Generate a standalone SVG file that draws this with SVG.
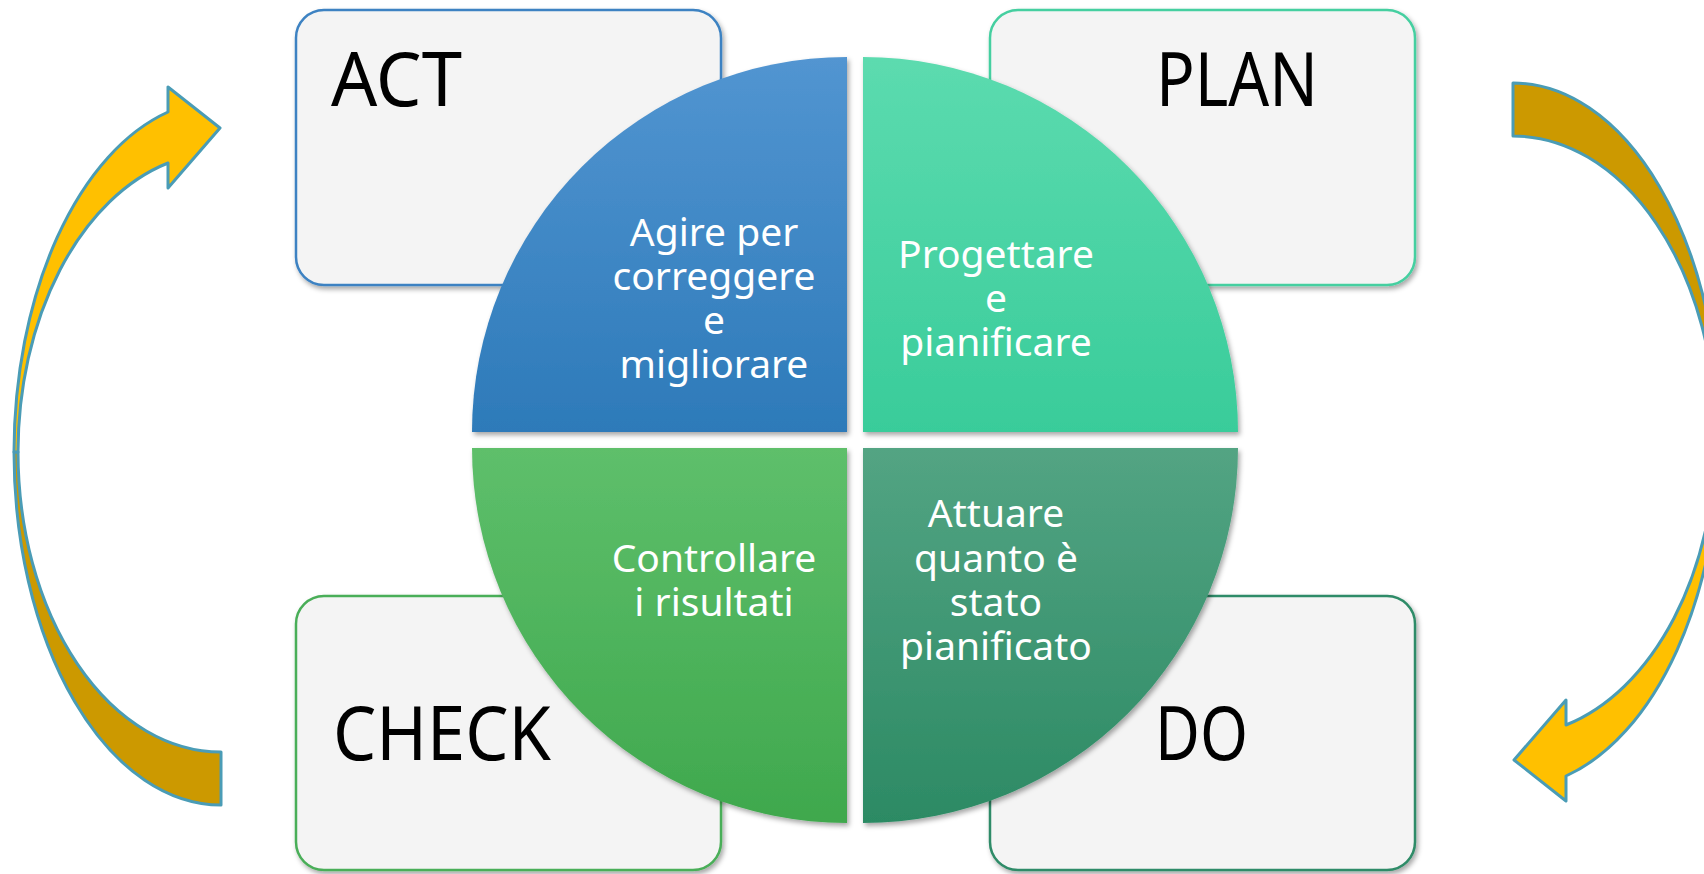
<svg xmlns="http://www.w3.org/2000/svg" width="1704" height="874" viewBox="0 0 1704 874">
<defs>
<style>
.box{fill:#F4F4F4;stroke-width:2.5}
.lbl{font-family:"Noto Sans","Open Sans","DejaVu Sans",sans-serif;font-size:75px;fill:#000}
.in{font-family:"Noto Sans","Open Sans","DejaVu Sans",sans-serif;font-size:39px;fill:#fff;text-anchor:middle}
.arr{stroke:#4A9CB6;stroke-width:3;stroke-linejoin:round}
.bright{fill:#FFC000}
.dark{fill:#CC9900}
</style>
<filter id="sh" x="-10%" y="-10%" width="125%" height="125%">
<feDropShadow dx="2" dy="3" stdDeviation="2.5" flood-color="#000" flood-opacity="0.35"/>
</filter>
<linearGradient id="gBlue" x1="0" y1="0" x2="0" y2="1"><stop offset="0" stop-color="#5295D1"/><stop offset="1" stop-color="#2D7AB9"/></linearGradient>
<linearGradient id="gTeal" x1="0" y1="0" x2="0" y2="1"><stop offset="0" stop-color="#5CDBAF"/><stop offset="1" stop-color="#39CC9A"/></linearGradient>
<linearGradient id="gGreen" x1="0" y1="0" x2="0" y2="1"><stop offset="0" stop-color="#5EBF6B"/><stop offset="1" stop-color="#3FA84D"/></linearGradient>
<linearGradient id="gDark" x1="0" y1="0" x2="0" y2="1"><stop offset="0" stop-color="#53A483"/><stop offset="1" stop-color="#2C8A64"/></linearGradient>
<g id="curvedArrow">
<path class="arr dark" d="M221,752 A203 300 0 0 1 18,452 L14,452 A207 353 0 0 0 221,805 Z"/>
<path class="arr bright" d="M168,112 A207 353 0 0 0 14,452 L18,452 A203 300 0 0 1 168,163 L168,188 L220,128 L168,87 Z"/>
</g>
</defs>
<rect width="1704" height="874" fill="#fff"/>

<g id="connectors">
<use href="#curvedArrow"/>
<use href="#curvedArrow" transform="rotate(180 867 444)"/>
</g>

<g id="node-act">
<rect class="box" x="296" y="10" width="425" height="275" rx="28" stroke="#3C82C2" filter="url(#sh)"/>
<text class="lbl" x="331" y="106" textLength="131" lengthAdjust="spacingAndGlyphs">ACT</text>
</g>
<g id="node-plan">
<rect class="box" x="990" y="10" width="425" height="275" rx="28" stroke="#45CFA0" filter="url(#sh)"/>
<text class="lbl" x="1156" y="106" textLength="162" lengthAdjust="spacingAndGlyphs">PLAN</text>
</g>
<g id="node-check">
<rect class="box" x="296" y="596" width="425" height="274" rx="28" stroke="#4AAE58" filter="url(#sh)"/>
<text class="lbl" x="333" y="760" textLength="218" lengthAdjust="spacingAndGlyphs">CHECK</text>
</g>
<g id="node-do">
<rect class="box" x="990" y="596" width="425" height="274" rx="28" stroke="#2E8B67" filter="url(#sh)"/>
<text class="lbl" x="1155" y="760" textLength="93" lengthAdjust="spacingAndGlyphs">DO</text>
</g>

<g id="node-agire">
<path d="M847,432 L472,432 A375 375 0 0 1 847,57 Z" fill="url(#gBlue)" filter="url(#sh)"/>
<text class="in"><tspan x="714" y="246">Agire per</tspan><tspan x="714" y="290">correggere</tspan><tspan x="714" y="334">e</tspan><tspan x="714" y="378">migliorare</tspan></text>
</g>
<g id="node-progettare">
<path d="M863,432 L863,57 A375 375 0 0 1 1238,432 Z" fill="url(#gTeal)" filter="url(#sh)"/>
<text class="in"><tspan x="996" y="268">Progettare</tspan><tspan x="996" y="312">e</tspan><tspan x="996" y="356">pianificare</tspan></text>
</g>
<g id="node-controllare">
<path d="M847,448 L847,823 A375 375 0 0 1 472,448 Z" fill="url(#gGreen)" filter="url(#sh)"/>
<text class="in"><tspan x="714" y="572">Controllare</tspan><tspan x="714" y="616">i risultati</tspan></text>
</g>
<g id="node-attuare">
<path d="M863,448 L1238,448 A375 375 0 0 1 863,823 Z" fill="url(#gDark)" filter="url(#sh)"/>
<text class="in"><tspan x="996" y="527">Attuare</tspan><tspan x="996" y="572">quanto è</tspan><tspan x="996" y="616">stato</tspan><tspan x="996" y="660">pianificato</tspan></text>
</g>
</svg>
